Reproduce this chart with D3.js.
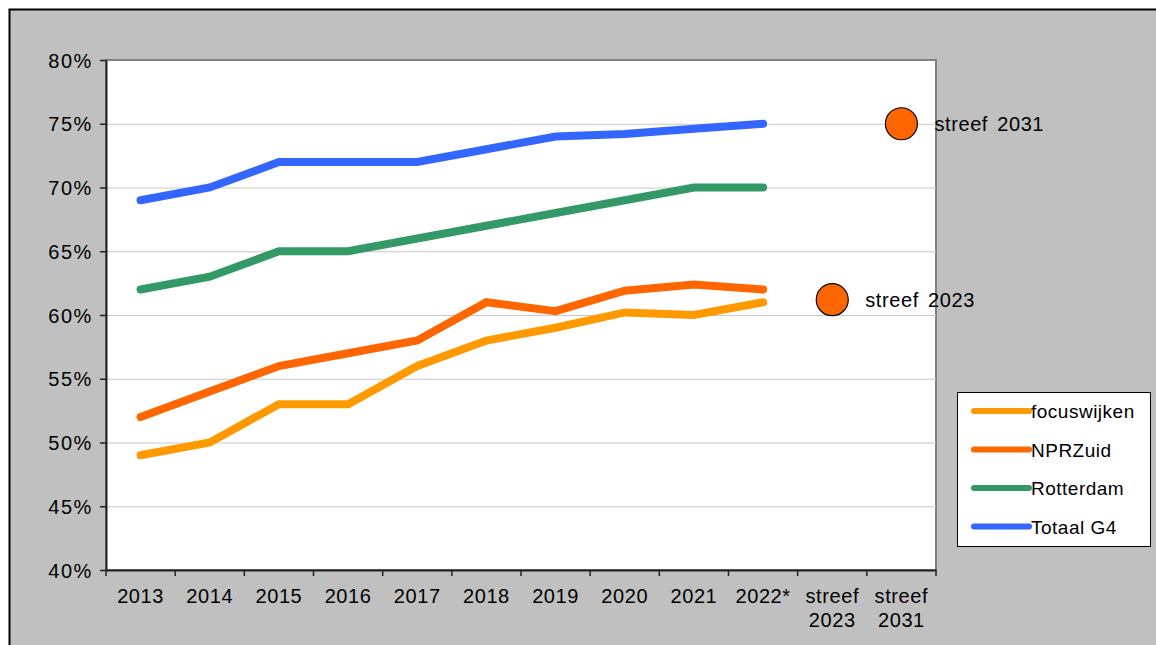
<!DOCTYPE html>
<html>
<head>
<meta charset="utf-8">
<script src="https://cdn.jsdelivr.net/npm/d3@7"></script>
<style>
  body { margin: 0; background: #fff; }
  svg { display: block; font-family: "Liberation Sans", Arial, sans-serif; }
</style>
</head>
<body>
<div id="chart"></div>
<script>
// categorieen op de x-as
const categories = ["2013", "2014", "2015", "2016", "2017", "2018", "2019", "2020", "2021", "2022*", "streef 2023", "streef 2031"];
const years = categories.slice(0, 10);

// reeksen (in %)
const focuswijken = [49, 50, 53, 53, 56, 58, 59, 60.2, 60, 61];
const nprZuid = [52, 54, 56, 57, 58, 61, 60.3, 61.9, 62.4, 62];
const rotterdam = [62, 63, 65, 65, 66, 67, 68, 69, 70, 70];
const totaalG4 = [69, 70, 72, 72, 72, 73, 74, 74.2, 74.6, 75];

// streefwaarden
const targets = [
  { cat: "streef 2023", value: 61.2, label: "streef 2023" },
  { cat: "streef 2031", value: 75, label: "streef 2031" }
];

const yTicks = [40, 45, 50, 55, 60, 65, 70, 75, 80];

const series = [
  { name: "focuswijken", values: focuswijken, color: "#FF9900" },
  { name: "NPRZuid", values: nprZuid, color: "#FF6600" },
  { name: "Rotterdam", values: rotterdam, color: "#339966" },
  { name: "Totaal G4", values: totaalG4, color: "#3366FF" }
];

const width = 1156, height = 645;
const margin = { top: 60, right: 220, bottom: 75, left: 106 };

const svg = d3.select("#chart").append("svg")
  .attr("width", width)
  .attr("height", height);

// grijze achtergrond met rand
svg.append("rect")
  .attr("x", 9.5).attr("y", 9.5)
  .attr("width", width + 20).attr("height", height + 20)
  .attr("fill", "#C0C0C0")
  .attr("stroke", "#000")
  .attr("stroke-width", 2);

const x = d3.scaleBand()
  .domain(categories)
  .range([margin.left, width - margin.right])
  .padding(0);

const y = d3.scaleLinear()
  .domain([40, 80])
  .range([height - margin.bottom, margin.top]);

// plotvlak
svg.append("rect")
  .attr("x", margin.left)
  .attr("y", margin.top)
  .attr("width", width - margin.right - margin.left)
  .attr("height", height - margin.bottom - margin.top)
  .attr("fill", "#fff")
  .attr("stroke", "#808080")
  .attr("stroke-width", 2);

// rasterlijnen
svg.append("g")
  .selectAll("line")
  .data(yTicks.filter(d => d > 40 && d < 80))
  .join("line")
  .attr("x1", margin.left)
  .attr("x2", width - margin.right)
  .attr("y1", d => y(d) + 0.5)
  .attr("y2", d => y(d) + 0.5)
  .attr("stroke", "#C8C8C8")
  .attr("stroke-width", 1);

// lijnen
const line = d3.line()
  .x((d, i) => x(years[i]) + x.bandwidth() / 2)
  .y(d => y(d));

svg.append("g")
  .selectAll("path")
  .data(series)
  .join("path")
  .attr("d", d => line(d.values))
  .attr("fill", "none")
  .attr("stroke", d => d.color)
  .attr("stroke-width", 8)
  .attr("stroke-linecap", "round")
  .attr("stroke-linejoin", "miter");

// streefpunten
const tg = svg.append("g");
tg.selectAll("circle")
  .data(targets)
  .join("circle")
  .attr("cx", d => x(d.cat) + x.bandwidth() / 2)
  .attr("cy", d => y(d.value))
  .attr("r", 16)
  .attr("fill", "#FF6600")
  .attr("stroke", "#000")
  .attr("stroke-width", 1.2);

tg.selectAll("text")
  .data(targets)
  .join("text")
  .attr("x", d => x(d.cat) + x.bandwidth() / 2 + 33)
  .attr("y", d => y(d.value) + 7)
  .style("font-size", "20px")
  .style("letter-spacing", "0.6px")
  .style("word-spacing", "3px")
  .attr("fill", "#000")
  .text(d => d.label);

// y-as
const yAxis = svg.append("g")
  .attr("transform", `translate(${margin.left},0)`)
  .call(d3.axisLeft(y).tickValues(yTicks).tickFormat(d => d + "%").tickSize(6).tickSizeOuter(0));
yAxis.select(".domain").attr("stroke", "#222").attr("stroke-width", 2);
yAxis.selectAll(".tick line").attr("stroke", "#222").attr("stroke-width", 1.5);
yAxis.selectAll(".tick text")
  .attr("x", -13)
  .attr("dy", "0.36em")
  .style("font-size", "20px")
  .style("letter-spacing", "1.6px")
  .style("font-family", "'Liberation Sans', Arial, sans-serif")
  .attr("fill", "#000");

// x-as
const xAxis = svg.append("g")
  .attr("transform", `translate(0,${height - margin.bottom})`)
  .call(d3.axisBottom(x).tickSize(0).tickSizeOuter(0));
xAxis.select(".domain").attr("stroke", "#222").attr("stroke-width", 2);
xAxis.selectAll(".tick text").remove();
xAxis.selectAll(".tick line").remove();

// tickstreepjes tussen categorieen
const bounds = categories.map(c => x(c)).concat([x(categories[categories.length - 1]) + x.bandwidth()]);
xAxis.selectAll("line.sep")
  .data(bounds)
  .join("line")
  .attr("class", "sep")
  .attr("x1", d => d)
  .attr("x2", d => d)
  .attr("y1", 0)
  .attr("y2", 6)
  .attr("stroke", "#222")
  .attr("stroke-width", 1.5);

// labels (met regelafbreking)
const labels = xAxis.selectAll("text.lab")
  .data(categories)
  .join("text")
  .attr("class", "lab")
  .attr("x", d => x(d) + x.bandwidth() / 2)
  .attr("y", 33)
  .attr("text-anchor", "middle")
  .style("font-size", "20px")
  .style("letter-spacing", "0.6px")
  .attr("fill", "#000");
labels.each(function(d) {
  const parts = d.split(" ");
  const t = d3.select(this);
  parts.forEach((p, i) => {
    t.append("tspan")
      .attr("x", x(d) + x.bandwidth() / 2)
      .attr("dy", i === 0 ? 0 : 24)
      .text(p);
  });
});

// legenda
const legend = svg.append("g")
  .attr("transform", "translate(957,392)");
legend.append("rect")
  .attr("x", 0.5).attr("y", 0.5)
  .attr("width", 193).attr("height", 154)
  .attr("fill", "#fff")
  .attr("stroke", "#000")
  .attr("stroke-width", 1);

series.forEach((s, i) => {
  const ly = 19 + i * 38.5;
  legend.append("line")
    .attr("x1", 17).attr("x2", 72)
    .attr("y1", ly).attr("y2", ly)
    .attr("stroke", s.color)
    .attr("stroke-width", 6)
    .attr("stroke-linecap", "round");
  legend.append("text")
    .attr("x", 74)
    .attr("y", ly + 7)
    .style("font-size", "19px")
    .style("letter-spacing", "0.5px")
    .attr("fill", "#000")
    .text(s.name);
});
</script>
</body>
</html>
